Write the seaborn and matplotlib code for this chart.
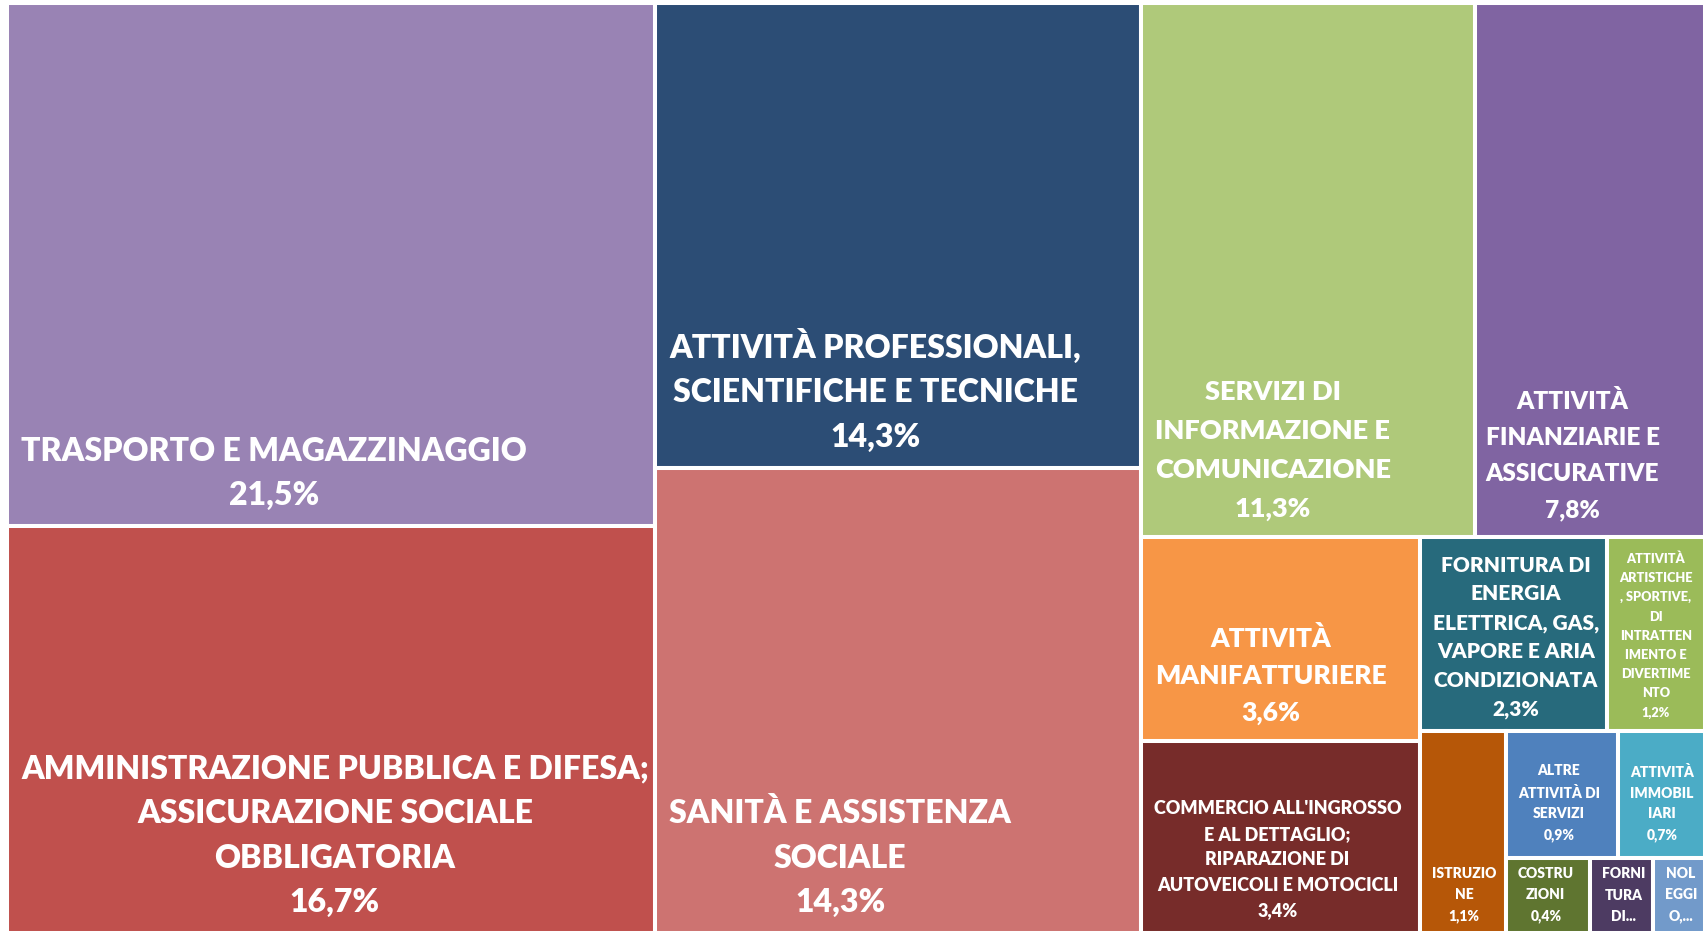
import matplotlib
matplotlib.use("Agg")
import matplotlib.pyplot as plt
from matplotlib.patches import Rectangle
import seaborn as sns

# --- DATI ---
categories = [
    "Trasporto e magazzinaggio",
    "Amministrazione pubblica e difesa; assicurazione sociale obbligatoria",
    "Attività professionali, scientifiche e tecniche",
    "Sanità e assistenza sociale",
    "Servizi di informazione e comunicazione",
    "Attività finanziarie e assicurative",
    "Attività manifatturiere",
    "Fornitura di energia elettrica, gas, vapore e aria condizionata",
    "Attività artistiche, sportive, di intrattenimento e divertimento",
    "Commercio all'ingrosso e al dettaglio; riparazione di autoveicoli e motocicli",
    "Istruzione",
    "Altre attività di servizi",
    "Attività immobiliari",
    "Costruzioni",
    "Fornitura di acqua; reti fognarie, gestione rifiuti e risanamento",
    "Noleggio, agenzie di viaggio, servizi di supporto alle imprese",
]
values = [21.5, 16.7, 14.3, 14.3, 11.3, 7.8, 3.6, 2.3, 1.2, 3.4, 1.1, 0.9, 0.7, 0.4, 0.3, 0.25]
labels = [
    "TRASPORTO E MAGAZZINAGGIO\n21,5%",
    "AMMINISTRAZIONE PUBBLICA E DIFESA;\nASSICURAZIONE SOCIALE\nOBBLIGATORIA\n16,7%",
    "ATTIVITÀ PROFESSIONALI,\nSCIENTIFICHE E TECNICHE\n14,3%",
    "SANITÀ E ASSISTENZA\nSOCIALE\n14,3%",
    "SERVIZI DI\nINFORMAZIONE E\nCOMUNICAZIONE\n11,3%",
    "ATTIVITÀ\nFINANZIARIE E\nASSICURATIVE\n7,8%",
    "ATTIVITÀ\nMANIFATTURIERE\n3,6%",
    "FORNITURA DI\nENERGIA\nELETTRICA, GAS,\nVAPORE E ARIA\nCONDIZIONATA\n2,3%",
    "ATTIVITÀ\nARTISTICHE\n, SPORTIVE,\nDI\nINTRATTEN\nIMENTO E\nDIVERTIME\nNTO\n1,2%",
    "COMMERCIO ALL'INGROSSO\nE AL DETTAGLIO;\nRIPARAZIONE DI\nAUTOVEICOLI E MOTOCICLI\n3,4%",
    "ISTRUZIO\nNE\n1,1%",
    "ALTRE\nATTIVITÀ DI\nSERVIZI\n0,9%",
    "ATTIVITÀ\nIMMOBIL\nIARI\n0,7%",
    "COSTRU\nZIONI\n0,4%",
    "FORNI\nTURA\nDI...",
    "NOL\nEGGI\nO,...",
]

# --- STILE ---
colors = [
    "#9983B4", "#C0504D", "#2C4D75", "#CD7371", "#AFC97A", "#8064A2",
    "#F79646", "#276A7C", "#9BBB59", "#772C2A", "#B65708", "#4F81BD",
    "#4BACC6", "#5F7530", "#4D3B62", "#729ACA",
]
font_sizes = [23, 23, 23, 23, 19.5, 17.6, 19, 15, 9.2, 13, 10, 10, 10, 10, 10, 10]
line_spacing = [1.64, 1.64, 1.64, 1.64, 1.74, 1.77, 1.64, 1.6, 1.72, 1.6, 1.75, 1.7, 1.7, 1.75, 1.75, 1.75]
pad_x = [14, 14, 14, 14, 14, 11, 14, 13, 12, 13, 12, 12, 12, 12, 12, 12]
pad_y = [16, 16, 16, 16, 16, 16, 16, 12, 12, 14, 10, 16, 16, 10, 10, 10]

# struttura del treemap: "h" = affiancati, "v" = impilati
LAYOUT = ("h", [
    ("v", [0, 1]),
    ("v", [2, 3]),
    ("v", [
        ("h", [4, 5]),
        ("h", [
            ("v", [6, 9]),
            ("v", [
                ("h", [7, 8]),
                ("h", [10, ("v", [("h", [11, 12]), ("h", [13, 14, 15])])]),
            ]),
        ]),
    ]),
])


def node_total(node):
    if isinstance(node, int):
        return values[node]
    return sum(node_total(c) for c in node[1])


def layout_rects(node, x, y, w, h, out):
    """Divide il rettangolo in proporzione ai valori."""
    if isinstance(node, int):
        out[node] = (x, y, w, h)
        return
    direction, children = node
    total = node_total(node)
    pos = 0.0
    for child in children:
        frac = node_total(child) / total
        if direction == "h":
            layout_rects(child, x + pos * w, y, frac * w, h, out)
        else:
            layout_rects(child, x, y + pos * h, w, frac * h, out)
        pos += frac


W, H = 1703, 931
sns.set_theme(style="white")
plt.rcParams["font.family"] = ["Lato", "DejaVu Sans"]

fig = plt.figure(figsize=(W / 100, H / 100), dpi=100)
ax = fig.add_axes([0, 0, 1, 1])
ax.set_xlim(0, W)
ax.set_ylim(H, 0)
ax.axis("off")

rects = {}
layout_rects(LAYOUT, 7, 2.5, W - 7 + 2, H - 2.5 + 2, rects)

for i, (x, y, w, h) in rects.items():
    ax.add_patch(Rectangle((x, y), w, h, facecolor=colors[i], edgecolor="white", linewidth=2.9))
    ax.annotate(labels[i], xy=(x, y + h), xytext=(pad_x[i], pad_y[i]), textcoords="offset pixels",
                ha="left", va="bottom", multialignment="center", color="white",
                fontsize=font_sizes[i], fontweight="heavy", linespacing=line_spacing[i],
                annotation_clip=False)

fig.savefig("out.png", dpi=100)
